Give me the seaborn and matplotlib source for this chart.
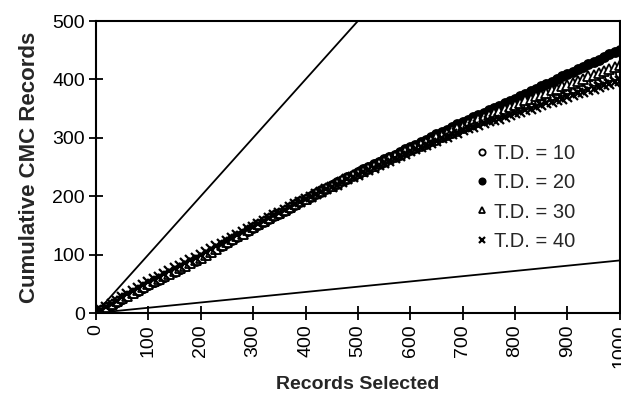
import numpy as np
import pandas as pd
import seaborn as sns
from matplotlib import pyplot as plt

# records selected (every 10)
records = list(range(0, 1001, 10))

# cumulative CMC records for each T.D. value
td10 = [0, 5, 10, 14, 19, 24, 29, 34, 38, 43, 48,
        53, 57, 62, 66, 71, 76, 80, 85, 89, 94,
        99, 104, 110, 115, 120, 125, 130, 136, 141, 146,
        151, 156, 161, 166, 170, 175, 180, 185, 190, 195,
        199, 204, 208, 213, 217, 221, 226, 230, 235, 239,
        243, 247, 251, 255, 259, 263, 267, 271, 275, 279,
        283, 286, 290, 294, 297, 301, 305, 309, 312, 316,
        320, 323, 327, 330, 334, 337, 341, 344, 348, 351,
        354, 357, 361, 364, 367, 370, 373, 377, 380, 383,
        386, 389, 391, 394, 397, 400, 403, 405, 408, 411]
td20 = [0, 5, 10, 14, 19, 24, 29, 34, 38, 43, 48,
        53, 58, 62, 67, 72, 76, 81, 86, 90, 95,
        100, 105, 110, 116, 121, 126, 131, 136, 142, 147,
        152, 157, 162, 167, 172, 176, 181, 186, 191, 196,
        201, 205, 210, 214, 219, 224, 228, 233, 237, 242,
        246, 250, 255, 259, 263, 267, 271, 276, 280, 284,
        288, 293, 297, 301, 306, 310, 314, 318, 323, 327,
        331, 335, 339, 343, 347, 351, 355, 359, 363, 367,
        371, 375, 380, 384, 388, 392, 396, 401, 405, 409,
        413, 417, 422, 426, 430, 434, 438, 443, 447, 451]
td30 = [0, 5, 10, 15, 20, 25, 29, 34, 39, 44, 49,
        54, 58, 63, 67, 72, 77, 81, 86, 90, 95,
        100, 105, 110, 116, 121, 126, 131, 136, 142, 147,
        152, 157, 162, 167, 172, 176, 181, 186, 191, 196,
        200, 205, 209, 214, 218, 222, 227, 231, 236, 240,
        244, 248, 252, 256, 261, 265, 269, 273, 277, 281,
        285, 289, 293, 297, 301, 305, 309, 313, 317, 321,
        325, 328, 332, 335, 339, 343, 346, 350, 353, 357,
        360, 364, 367, 371, 374, 377, 381, 384, 388, 391,
        394, 398, 401, 405, 408, 411, 415, 418, 422, 425]
td40 = [0, 5, 11, 16, 21, 27, 32, 37, 42, 48, 53,
        58, 62, 67, 72, 77, 81, 86, 91, 95, 100,
        105, 110, 115, 119, 124, 129, 134, 139, 143, 148,
        153, 157, 162, 167, 172, 176, 181, 186, 190, 195,
        199, 203, 208, 212, 216, 220, 224, 229, 233, 237,
        241, 245, 249, 253, 257, 261, 265, 269, 273, 277,
        281, 284, 288, 291, 295, 299, 302, 306, 309, 313,
        316, 319, 322, 325, 328, 330, 333, 336, 339, 342,
        345, 348, 350, 353, 356, 359, 362, 364, 367, 370,
        373, 376, 378, 381, 384, 387, 390, 392, 395, 398]

series_labels = ["T.D. = 10", "T.D. = 20", "T.D. = 30", "T.D. = 40"]
series_values = [td10, td20, td30, td40]

# reference lines: perfect selection and random selection
perfect_x = [0, 500]
perfect_y = [0, 500]
random_x = [0, 1000]
random_y = [0, 90]

sns.set_style("ticks")
plt.rcParams["font.family"] = ["Liberation Sans", "DejaVu Sans"]

fig = plt.figure(figsize=(6.21, 4.0), dpi=100)
ax = fig.add_axes([0.1546, 0.2175, 0.8434, 0.73])

ax.plot(perfect_x, perfect_y, color="black", lw=1.3)
ax.plot(random_x, random_y, color="black", lw=1.3)

# 标记样式
styles = [
    dict(marker="o", mfc="white", mec="black", mew=1.3, ms=6.5),
    dict(marker="o", mfc="black", mec="black", mew=1.3, ms=6.5),
    dict(marker="^", mfc="white", mec="black", mew=1.3, ms=7),
    dict(marker="x", mfc="black", mec="black", mew=1.6, ms=6.5),
]

for lab, vals, st in zip(series_labels, series_values, styles):
    df = pd.DataFrame({"x": records, "y": vals})
    sns.lineplot(data=df, x="x", y="y", ax=ax, linestyle="", color="black",
                 estimator=None, label=lab, **st)

ax.set_xlim(0, 1000)
ax.set_ylim(0, 500)
ax.set_xticks(range(0, 1001, 100))
ax.set_yticks(range(0, 501, 100))
ax.tick_params(axis="both", direction="inout", length=10, width=1.3, colors="black",
               labelsize=14)
ax.tick_params(axis="x", labelrotation=90, pad=3)
ax.tick_params(axis="y", pad=3)
for s in ax.spines.values():
    s.set_linewidth(1.5)
    s.set_color("black")

ax.set_xlabel("Records Selected", fontsize=14, fontweight="bold", labelpad=6)
ax.set_ylabel("Cumulative CMC Records", fontsize=16, fontweight="bold", labelpad=9)

leg = ax.legend(frameon=False, loc="upper left", bbox_to_anchor=(0.71, 0.605), fontsize=14.5,
                handlelength=0.6, handletextpad=0.3, labelspacing=0.5, borderaxespad=0)
for h in leg.legend_handles:
    h.set_markersize(4.5)

fig.savefig("out.png", dpi=100)
